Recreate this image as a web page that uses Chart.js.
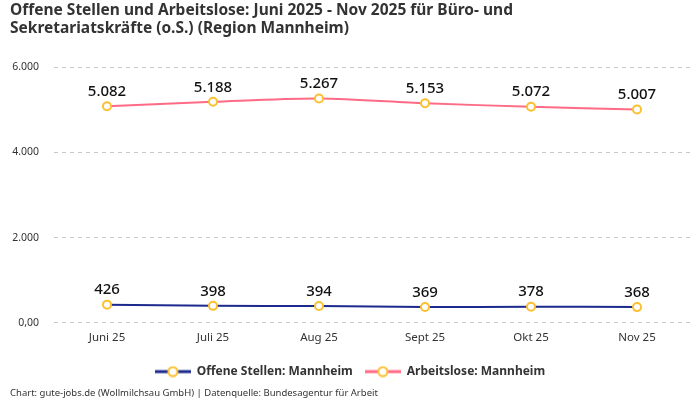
<!DOCTYPE html>
<html>
<head>
<meta charset="utf-8">
<style>
  html, body { margin: 0; padding: 0; background: #fff; }
  #wrap { width: 700px; height: 400px; position: relative; }
</style>
<script src="https://cdn.jsdelivr.net/npm/chart.js@4/dist/chart.umd.min.js"></script>
</head>
<body>
<div id="wrap"><canvas id="chart" width="700" height="400"></canvas></div>
<script>
const months = ['Juni 25', 'Juli 25', 'Aug 25', 'Sept 25', 'Okt 25', 'Nov 25'];
const offeneStellen = [426, 398, 394, 369, 378, 368];
const arbeitslose = [5082, 5188, 5267, 5153, 5072, 5007];
const yTicks = [0, 2000, 4000, 6000];
const yTickLabels = ['0,00', '2.000', '4.000', '6.000'];

const FONT = "'Noto Sans', sans-serif";
const navy = '#1b2a8c';
const pink = '#ff6b85';
const yellow = '#fbc02d';

function legendIcon(color) {
    const c = document.createElement('canvas');
    c.width = 36; c.height = 12;
    const g = c.getContext('2d');
    g.strokeStyle = color;
    g.lineWidth = 3;
    g.beginPath(); g.moveTo(0, 6); g.lineTo(36, 6); g.stroke();
    g.fillStyle = '#fff';
    g.strokeStyle = yellow;
    g.lineWidth = 2;
    g.beginPath(); g.arc(18, 6, 4.5, 0, Math.PI * 2); g.fill(); g.stroke();
    return c;
}

const fmt = v => v.toLocaleString('de-DE');

const valueLabels = {
    id: 'valueLabels',
    afterDatasetsDraw(chart) {
        const ctx = chart.ctx;
        ctx.save();
        ctx.font = '500 15px ' + FONT;
        ctx.fillStyle = '#111';
        ctx.textAlign = 'center';
        ctx.textBaseline = 'bottom';
        chart.data.datasets.forEach((ds, i) => {
            chart.getDatasetMeta(i).data.forEach((pt, j) => {
                ctx.fillText(fmt(ds.data[j]), pt.x, pt.y - 7);
            });
        });
        ctx.restore();
    }
};

new Chart(document.getElementById('chart'), {
    type: 'line',
    data: {
        labels: months,
        datasets: [
            {
                label: 'Offene Stellen: Mannheim',
                data: offeneStellen,
                borderColor: navy,
                borderWidth: 2,
                pointBorderColor: yellow,
                pointBackgroundColor: '#fff'
            },
            {
                label: 'Arbeitslose: Mannheim',
                data: arbeitslose,
                borderColor: pink,
                borderWidth: 2,
                pointBorderColor: yellow,
                pointBackgroundColor: '#fff'
            }
        ]
    },
    options: {
        responsive: false,
        animation: false,
        devicePixelRatio: 1,
        layout: { padding: { left: 10, right: 10, top: 0, bottom: 0 } },
        elements: {
            line: { tension: 0.3 },
            point: { radius: 4, borderWidth: 2, pointStyle: 'circle' }
        },
        scales: {
            x: {
                offset: true,
                grid: { display: false },
                border: { display: false },
                afterFit: axis => { axis.height += 9; },
                ticks: { color: '#333', font: { family: FONT, size: 11.5 }, padding: 0 }
            },
            y: {
                min: 0,
                max: 6000,
                afterBuildTicks: axis => { axis.ticks = yTicks.map(v => ({ value: v })); },
                afterFit: axis => { axis.width = 44; },
                grid: { color: '#c8c8c8', tickLength: 0 },
                border: { display: false, dash: [4, 4] },
                ticks: {
                    color: '#333',
                    font: { family: FONT, size: 10.5 },
                    padding: 15,
                    callback: v => yTickLabels[yTicks.indexOf(v)]
                }
            }
        },
        plugins: {
            title: {
                display: true,
                align: 'start',
                text: ['Offene Stellen und Arbeitslose: Juni 2025 - Nov 2025 für Büro- und',
                       'Sekretariatskräfte (o.S.) (Region Mannheim)'],
                color: '#333',
                font: { family: FONT, size: 15.5, weight: 'bold', lineHeight: 1.2 },
                padding: { top: 1, bottom: 29 }
            },
            legend: {
                position: 'bottom',
                labels: {
                    usePointStyle: true,
                    pointStyleWidth: 36,
                    boxHeight: 12,
                    color: '#333',
                    font: { family: FONT, size: 12, weight: 'bold' },
                    padding: 12,
                    generateLabels: chart => chart.data.datasets.map((ds, i) => ({
                        text: ds.label,
                        pointStyle: legendIcon(ds.borderColor),
                        fontColor: '#333',
                        datasetIndex: i,
                        hidden: false,
                        lineWidth: 0
                    }))
                }
            },
            subtitle: {
                display: true,
                position: 'bottom',
                align: 'start',
                text: 'Chart: gute-jobs.de (Wollmilchsau GmbH) | Datenquelle: Bundesagentur für Arbeit',
                color: '#333',
                font: { family: FONT, size: 9.5 },
                padding: { top: 0, bottom: 1 }
            },
            tooltip: { enabled: false }
        }
    },
    plugins: [valueLabels]
});
</script>
</body>
</html>
